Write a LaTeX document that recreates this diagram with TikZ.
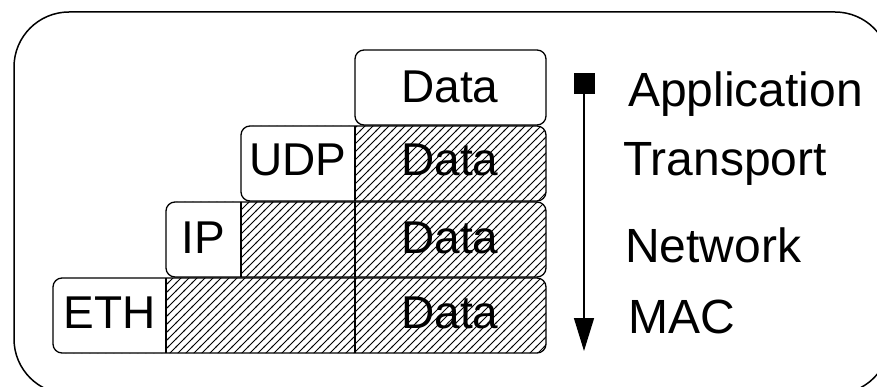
\documentclass[tikz,border=0pt]{standalone}
\usepackage{fontspec}
\setmainfont{Liberation Sans}
\usetikzlibrary{arrows.meta,patterns.meta}
\tikzdeclarepattern{
  name=hatch,
  type=colored,
  bounding box={(-1pt,-1pt) and (9pt,9pt)},
  tile size={(8pt,8pt)},
  code={\draw[black,line width=0.8pt] (-1pt,-1pt) -- (9pt,9pt);}
}
\tikzset{
  frame/.style={draw=black,line width=1.5pt,rounded corners=55pt},
  rowline/.style={draw=black,line width=1.3pt,rounded corners=9pt},
  hatched/.style={pattern=hatch,rounded corners=9pt},
  divider/.style={draw=black,line width=1.2pt},
  boxtext/.style={anchor=base,inner sep=0pt,font=\fontsize{46}{50}\selectfont},
  layertext/.style={anchor=base west,inner sep=0pt,font=\fontsize{48}{52}\selectfont},
  sq/.style={fill=black,draw=black,minimum size=20pt,inner sep=0pt},
  flow/.style={draw=black,line width=1.4pt,-{Triangle[width=20pt,length=33pt]}}
}
\newcommand{\rowfill}[4]{% left, header right, top, bottom
  \fill[hatched] (#1,#3) rectangle (546,#4);
  \begin{scope}
    \clip (#1-2,#3-2) rectangle (#2,#4+2);
    \fill[white,rounded corners=9pt] (#1,#3) rectangle (546,#4);
  \end{scope}
  \draw[rowline] (#1,#3) rectangle (546,#4);
}
\begin{document}
\begin{tikzpicture}[x=1pt,y=-1pt]
\useasboundingbox (0,0) rectangle (877,387);
\clip (0,0) rectangle (877,387);
\fill[white] (0,0) rectangle (877,387);
% outer frame
\draw[frame] (14,12) rectangle (890,394);

% top data box
\draw[rowline,fill=white] (355,50) rectangle (546,125);
\node[boxtext] (d1) at (450,103) {Data};

% row 2: UDP
\rowfill{241}{355}{126}{201}
\draw[divider] (355,126) -- (355,201);
\node[boxtext] (udp) at (298,176) {UDP};
\node[boxtext] (d2) at (450,176) {Data};

% row 3: IP
\rowfill{166}{241}{202}{277}
\draw[divider] (241,202) -- (241,277);
\draw[divider] (355,202) -- (355,277);
\node[boxtext] (ip) at (203.5,253) {IP};
\node[boxtext] (d3) at (450,253) {Data};

% row 4: ETH
\rowfill{53}{166}{278}{353}
\draw[divider] (166,278) -- (166,353);
\draw[divider] (355,278) -- (355,353);
\node[boxtext] (eth) at (109.5,328) {ETH};
\node[boxtext] (d4) at (450,328) {Data};

% arrow
\node[sq] (start) at (584,83) {};
\coordinate (end) at (584,351);
\draw[flow] (start.south) -- (end);

% layer labels
\node[layertext] (app) at (628,107) {Application};
\node[layertext] (tra) at (623,176) {Transport};
\node[layertext] (net) at (625,262) {Network};
\node[layertext] (mac) at (628,333) {MAC};
\end{tikzpicture}
\end{document}
